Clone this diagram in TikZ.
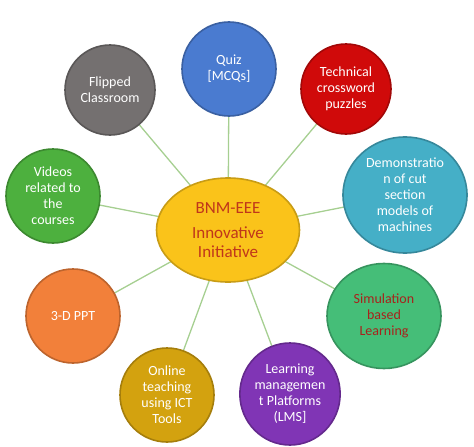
\documentclass[tikz,border=0pt]{standalone}
\usepackage{fontspec}
\setmainfont{Carlito}
\usepackage{tikz}
\usetikzlibrary{shapes.geometric,backgrounds}

\definecolor{quizblue}{HTML}{4A7BD0}
\definecolor{techred}{HTML}{D00A0A}
\definecolor{demoteal}{HTML}{45AFC7}
\definecolor{simgreen}{HTML}{45BE78}
\definecolor{lmspurple}{HTML}{8035B5}
\definecolor{onlinegold}{HTML}{D3A20F}
\definecolor{pptorange}{HTML}{F2803A}
\definecolor{videogreen}{HTML}{4DB03E}
\definecolor{flipgray}{HTML}{747070}
\definecolor{hubyellow}{HTML}{FAC31A}
\definecolor{hubtext}{HTML}{C0361A}
\definecolor{simtext}{HTML}{A8221C}
\definecolor{spokegreen}{HTML}{A6CF91}

\tikzset{
    topic/.style={
        circle, fill=#1, draw=#1!78!black, line width=1.6pt,
        text=white, align=center, inner sep=0pt,
        font=\fontsize{14}{16}\selectfont
    },
    oval/.style={topic=#1, ellipse},
    hub/.style={
        ellipse, fill=hubyellow, draw=hubyellow!80!black, line width=1.6pt,
        text=hubtext, align=center, inner sep=0pt,
        minimum width=143pt, minimum height=104pt,
        font=\fontsize{17}{19}\selectfont
    },
    spoke/.style={spokegreen, line width=1.3pt}
}

\begin{document}
\begin{tikzpicture}[x=1pt, y=-1pt]
        \useasboundingbox (0,0) rectangle (474,447);

        \node[hub] (hub) at (228,230) {BNM-EEE\\[6pt]Innovative\\Initiative};

        \node[topic=quizblue, minimum size=94pt] (quiz) at (229,69) {Quiz\\{[MCQs]}};
        \node[topic=techred, minimum size=90pt] (tech) at (346,89) {Technical\\crossword\\puzzles};
        \node[oval=demoteal, minimum width=124pt, minimum height=116pt] (demo) at (405,195)
            {Demonstratio\\n of cut\\section\\models of\\machines};
        \node[oval=simgreen, minimum width=114pt, minimum height=105pt, text=simtext] (sim) at (384,316)
            {Simulation\\based\\Learning};
        \node[oval=lmspurple, minimum width=96pt, minimum height=102pt] (lms) at (290,394)
            {Learning\\managemen\\t Platforms\\(LMS]};
        \node[topic=onlinegold, minimum size=94pt] (online) at (167,395) {Online\\teaching\\using ICT\\Tools};
        \node[topic=pptorange, minimum size=94pt] (ppt) at (73,316) {3-D PPT};
        \node[topic=videogreen, minimum size=94pt] (videos) at (53,196) {Videos\\related to\\the\\courses};
        \node[topic=flipgray, minimum size=90pt] (flipped) at (110,90) {Flipped\\Classroom};

        \begin{scope}[on background layer]
        \foreach \t in {quiz,tech,demo,sim,lms,online,ppt,videos,flipped}
            \draw[spoke] (hub.center) -- (\t.center);
        \end{scope}

\end{tikzpicture}
\end{document}
